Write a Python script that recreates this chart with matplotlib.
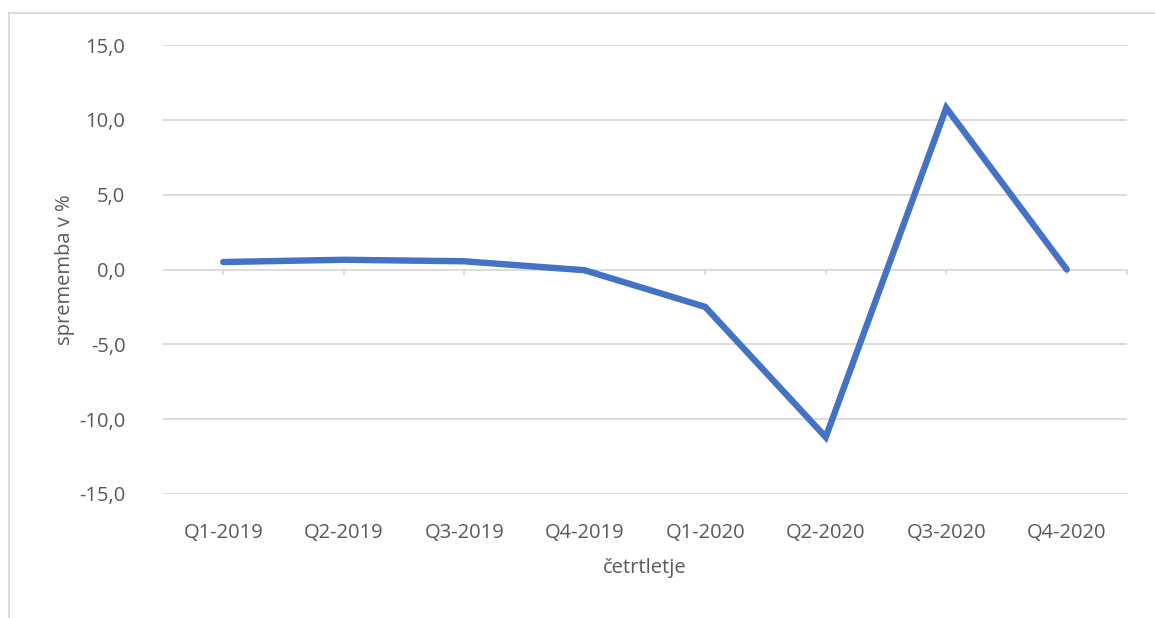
import matplotlib
matplotlib.use("Agg")
import matplotlib.pyplot as plt
from matplotlib.lines import Line2D

categories = ["Q1-2019", "Q2-2019", "Q3-2019", "Q4-2019",
              "Q1-2020", "Q2-2020", "Q3-2020", "Q4-2020"]
values = [0.5, 0.65, 0.55, -0.05, -2.5, -11.2, 10.8, 0.0]
yticks = [-15, -10, -5, 0, 5, 10, 15]

plt.rcParams['font.family'] = ['Open Sans', 'DejaVu Sans']
txt = '#595959'
grid = '#D9D9D9'
fs = 14.5

fig = plt.figure(figsize=(11.55, 6.18), dpi=100)
ax = fig.add_axes([163/1155, 1-494/618, (1127-163)/1155, (494-45)/618])

x = list(range(len(categories)))
for yv in yticks:
    ax.axhline(yv, color=grid, lw=1.3, zorder=1)
ax.plot(x, values, color='#4472C4', lw=4.6, solid_capstyle='round',
        solid_joinstyle='miter', zorder=3)

ax.set_xlim(-0.5, len(categories) - 0.5)
ax.set_ylim(-15, 15)
ax.set_yticks(yticks)
ax.set_yticklabels([f"{v:.1f}".replace('.', ',') for v in yticks],
                   color=txt, fontsize=fs)
ax.set_xticks(x)
ax.set_xticklabels(categories, color=txt, fontsize=fs)
ax.tick_params(axis='both', length=0)
ax.tick_params(axis='y', pad=27)
ax.tick_params(axis='x', pad=21)
for s in ax.spines.values():
    s.set_visible(False)

# small category ticks on the zero line
tick_x = x + [len(categories) - 0.5]
for tx in tick_x:
    ax.plot([tx, tx], [0, -0.3], color=grid, lw=1.3, zorder=1,
            clip_on=False)

ax.set_ylabel("sprememba v %", color=txt, fontsize=fs, labelpad=3)
ax.set_xlabel("četrtletje", color=txt, fontsize=fs, labelpad=11)

# outer chart border (top and left visible)
fig.add_artist(Line2D([8.5/1155, 1], [1-13/618, 1-13/618],
                      transform=fig.transFigure, color='#D9D9D9', lw=1.3))
fig.add_artist(Line2D([8.5/1155, 8.5/1155], [0, 1-13/618],
                      transform=fig.transFigure, color='#D9D9D9', lw=1.3))

fig.savefig("out.png", dpi=100, facecolor='white')
